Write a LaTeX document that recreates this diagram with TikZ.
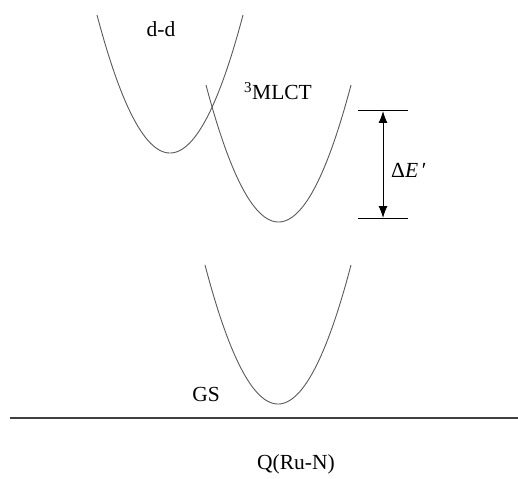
\documentclass[tikz,border=0pt]{standalone}
\usepackage{fontspec}
\setmainfont{Liberation Serif}
\usetikzlibrary{arrows.meta}
\begin{document}
\begin{tikzpicture}[x=1pt,y=1pt,
  curve/.style={draw=black!65,line width=0.9pt},
  lbl/.style={inner sep=0pt,font=\fontsize{21.5}{25}\selectfont},
  lvl/.style={draw=black,line width=1pt},
  base/.style={draw=black!75,line width=1.6pt}]
\useasboundingbox (0,0) rectangle (518,-478);
% potential curves
\draw[curve] plot[domain=97:243,samples=80,smooth] (\x,{-153+138*((\x-170)/73)^2});
\draw[curve] plot[domain=206:351,samples=80,smooth] (\x,{-222+137*((\x-278.5)/72.5)^2});
\draw[curve] plot[domain=205:351,samples=80,smooth] (\x,{-404+139*((\x-278)/73)^2});
% labels
\node[lbl] (dd) at (161,-29) {d-d};
\node[lbl] (mlct) at (278,-91) {\textsuperscript{3}MLCT};
\node[lbl] (gs) at (206,-394) {GS};
\node[lbl] (q) at (296,-464) {Q(Ru-N)};
\node[lbl,anchor=west] (de) at (391,-170) {Δ\textit{E}\,′};
% energy gap
\coordinate (t1) at (358,-111);
\coordinate (t2) at (408,-111);
\coordinate (b1) at (358,-218);
\coordinate (b2) at (408,-218);
\coordinate (at) at (383,-111);
\coordinate (ab) at (383,-218);
\draw[lvl] (t1) -- (t2);
\draw[lvl] (b1) -- (b2);
\draw[lvl,{Latex[length=12pt,width=9pt]}-{Latex[length=12pt,width=9pt]}] (at) -- (ab);
% axis
\coordinate (l) at (10,-418);
\coordinate (r) at (518,-418);
\draw[base] (l) -- (r);
\end{tikzpicture}
\end{document}
